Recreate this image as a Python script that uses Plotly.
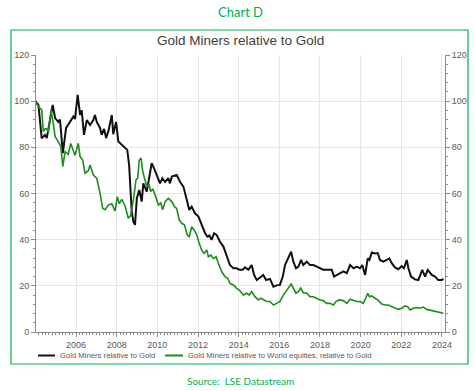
import plotly.graph_objects as go

# Gold Miners relative to Gold (black)
black_x = [2004.0, 2004.15, 2004.31, 2004.47, 2004.56, 2004.64, 2004.85, 2004.97, 2005.13, 2005.21,
           2005.35, 2005.51, 2005.70, 2005.87, 2005.95, 2006.08, 2006.20, 2006.28, 2006.39, 2006.53,
           2006.69, 2006.85, 2006.93, 2007.02, 2007.18, 2007.26, 2007.38, 2007.48, 2007.59, 2007.76,
           2007.83, 2007.97, 2008.08, 2008.25, 2008.41, 2008.52, 2008.61, 2008.66, 2008.74, 2008.82,
           2008.90, 2008.99, 2009.11, 2009.23, 2009.31, 2009.48, 2009.59, 2009.72, 2009.84, 2009.97,
           2010.13, 2010.25, 2010.38, 2010.54, 2010.62, 2010.71, 2010.95, 2011.12, 2011.28, 2011.45,
           2011.57, 2011.69, 2011.85, 2012.02, 2012.18, 2012.35, 2012.46, 2012.56, 2012.67, 2012.79,
           2012.92, 2013.08, 2013.25, 2013.41, 2013.57, 2013.74, 2013.90, 2014.03, 2014.20, 2014.31,
           2014.48, 2014.64, 2014.76, 2014.89, 2015.05, 2015.21, 2015.35, 2015.54, 2015.71, 2015.87,
           2016.03, 2016.17, 2016.28, 2016.44, 2016.58, 2016.69, 2016.82, 2016.94, 2017.07, 2017.18,
           2017.35, 2017.51, 2017.67, 2017.84, 2018.00, 2018.16, 2018.41, 2018.58, 2018.69, 2018.99,
           2019.15, 2019.32, 2019.48, 2019.65, 2019.81, 2019.97, 2020.08, 2020.22, 2020.35, 2020.43,
           2020.55, 2020.71, 2020.84, 2020.95, 2021.12, 2021.28, 2021.41, 2021.53, 2021.69, 2021.85,
           2022.02, 2022.13, 2022.27, 2022.35, 2022.48, 2022.67, 2022.84, 2023.03, 2023.17, 2023.30,
           2023.50, 2023.66, 2023.82, 2023.99, 2024.07]
black_y = [100, 98.4, 83.9, 85.4, 84, 88, 98.4, 92.7, 91, 92,
           77.5, 88.4, 91, 93.3, 92.3, 102.7, 94, 96, 85.4, 91.8,
           89.7, 91.8, 94, 91, 88.4, 85.4, 88, 84, 87, 94,
           85.7, 91, 82.5, 81, 80, 78.9, 72.4, 63.7, 52, 47.8,
           46.4, 58, 61.5, 56.5, 64.4, 60.8, 67.3, 73.1, 70.9, 68,
           64.4, 66.6, 65, 66.6, 64.4, 67.3, 68, 65, 63, 57.2,
           52.9, 54.3, 51.4, 50, 46.4, 42.8, 41.3, 41.8, 39.9, 42.8,
           42, 39.1, 37, 32.6, 29, 27.6, 27.6, 27, 27, 28,
           27, 29, 24.7, 22.5, 23.8, 24.7, 22.5, 23, 19.6, 20.2,
           20.4, 24, 29, 31.9, 34.8, 30.5, 27.6, 28.3, 31.2, 29,
           30.5, 29, 29, 28.3, 27.6, 27, 27, 27, 24, 25.4,
           26.3, 25.5, 29, 27.6, 28.3, 27.6, 29, 24.7, 31.9, 31.2,
           34.4, 34, 34.2, 31.2, 30.5, 31.2, 31.9, 29.8, 28, 27.2,
           28.5, 27.6, 31.2, 27.6, 24, 22.8, 22.5, 26.9, 24, 26.9,
           24.7, 24, 22.5, 22.5, 23]

# Gold Miners relative to World equities, relative to Gold (green)
green_x = [2004.0, 2004.15, 2004.31, 2004.39, 2004.47, 2004.56, 2004.64, 2004.77, 2004.88, 2004.97,
           2005.13, 2005.25, 2005.35, 2005.46, 2005.62, 2005.74, 2005.87, 2005.95, 2006.11, 2006.20,
           2006.33, 2006.44, 2006.61, 2006.69, 2006.85, 2007.02, 2007.18, 2007.31, 2007.43, 2007.59,
           2007.76, 2007.92, 2008.03, 2008.13, 2008.25, 2008.41, 2008.57, 2008.69, 2008.82, 2008.95,
           2009.03, 2009.11, 2009.20, 2009.28, 2009.39, 2009.48, 2009.59, 2009.67, 2009.77, 2009.89,
           2010.05, 2010.17, 2010.26, 2010.38, 2010.54, 2010.71, 2010.84, 2010.95, 2011.08, 2011.20,
           2011.33, 2011.47, 2011.57, 2011.69, 2011.82, 2011.94, 2012.06, 2012.18, 2012.30, 2012.43,
           2012.51, 2012.64, 2012.75, 2012.89, 2013.00, 2013.17, 2013.33, 2013.46, 2013.57, 2013.74,
           2013.90, 2014.03, 2014.23, 2014.40, 2014.52, 2014.64, 2014.80, 2014.97, 2015.09, 2015.21,
           2015.38, 2015.54, 2015.71, 2015.87, 2016.03, 2016.20, 2016.36, 2016.49, 2016.58, 2016.69,
           2016.82, 2016.94, 2017.05, 2017.18, 2017.35, 2017.51, 2017.67, 2017.84, 2018.00, 2018.16,
           2018.33, 2018.49, 2018.66, 2018.79, 2018.95, 2019.15, 2019.32, 2019.48, 2019.65, 2019.81,
           2019.97, 2020.13, 2020.25, 2020.35, 2020.43, 2020.55, 2020.71, 2020.84, 2021.04, 2021.20,
           2021.36, 2021.53, 2021.69, 2021.85, 2022.02, 2022.18, 2022.31, 2022.43, 2022.59, 2022.76,
           2022.92, 2023.08, 2023.25, 2023.41, 2023.58, 2023.82, 2024.07]
green_y = [100, 97.6, 96.2, 86.8, 88, 88, 86.5, 96.2, 90.4, 84.6,
           82.5, 80.3, 71.6, 78.1, 77, 81.7, 78.5, 76.5, 81.7, 76,
           74.5, 68.8, 70, 72.4, 68, 66.5, 60.1, 53.6, 53, 55,
           55.6, 52.4, 58.6, 55.6, 57.5, 54.6, 49.3, 50.5, 57.2, 65.9,
           66.6, 74.5, 75.3, 69.5, 65.9, 63, 64, 60.8, 62, 59.4,
           55, 56, 52.9, 56.5, 57.9, 56.5, 54.3, 53.5, 48.5, 47.1,
           46.4, 42, 41.3, 45.6, 44, 42, 38.4, 35.5, 34, 35.5,
           32.6, 33.3, 31.9, 32.6, 29.8, 26.1, 24, 23.3, 21.1, 20.4,
           18.9, 18.2, 16, 16.8, 16, 17.5, 15.3, 13.9, 14.6, 13.9,
           13.2, 13.2, 11.7, 12.4, 13.2, 16, 18.2, 19.9, 20.8, 19,
           16.8, 17.5, 19, 17, 16.8, 15.3, 15.3, 14.6, 13.9, 13.6,
           12.4, 12.4, 11.7, 13.2, 13.9, 13.6, 12.4, 14.2, 13.6, 13.2,
           13.2, 12.4, 14.6, 16.8, 15.3, 15.6, 14.6, 13.9, 12.1, 11.7,
           11.7, 11, 10.3, 9.8, 10.3, 11.3, 11, 9.5, 10.3, 10.6,
           10.3, 10.8, 9.8, 9.5, 9.1, 8.5, 8.1]

year_ticks = [2006, 2008, 2010, 2012, 2014, 2016, 2018, 2020, 2022, 2024]
value_ticks = [0, 20, 40, 60, 80, 100, 120]

series_names = ["Gold Miners relative to Gold",
                "Gold Miners relative to World equities, relative to Gold"]
series_colors = ["#111111", "#1e8c1e"]

GREEN_FRAME = "#00b050"
AXIS = "#8c8c8c"
TXT = "#595959"

fig = go.Figure()
fig.add_trace(go.Scatter(x=black_x, y=black_y, mode="lines", name=series_names[0],
                         line=dict(color=series_colors[0], width=2), showlegend=False))
fig.add_trace(go.Scatter(x=green_x, y=green_y, mode="lines", name=series_names[1],
                         line=dict(color=series_colors[1], width=1.6), showlegend=False))
# invisible trace to anchor right axis
fig.add_trace(go.Scatter(x=[black_x[0]], y=[black_y[0]], yaxis="y2", mode="lines",
                         showlegend=False, hoverinfo="skip", opacity=0))

L, R, T, B = 36, 30, 55, 59
W, H = 475, 391
pw, ph = W - L - R, H - T - B

def px_x(x):
    return (x - L) / pw

def px_y(y):
    return (H - B - y) / ph

tickfont = dict(family="Liberation Sans, Arial, sans-serif", size=9, color=TXT)

fig.update_layout(
    width=W, height=H,
    margin=dict(l=L, r=R, t=T, b=B, autoexpand=False),
    paper_bgcolor="white", plot_bgcolor="white",
    font=dict(family="Liberation Sans, Arial, sans-serif", color=TXT, size=9),
    showlegend=False,
    xaxis=dict(range=[2004.03, 2024.15], tickmode="array", tickvals=year_ticks,
               ticktext=[str(v) for v in year_ticks], automargin=False,
               showgrid=True, gridcolor="#e6e6e6", gridwidth=1, zeroline=False,
               showline=True, linecolor=AXIS, linewidth=1, ticks="outside", ticklen=4,
               tickcolor=AXIS, tickfont=tickfont,
               minor=dict(ticks="outside", ticklen=2, tickcolor=AXIS, tickmode="linear",
                          dtick=1/6, tick0=2004, showgrid=False)),
    yaxis=dict(range=[0, 120], tickmode="array", tickvals=value_ticks, automargin=False,
               showgrid=True, gridcolor="#e6e6e6",
               zeroline=False, showline=True, linecolor=AXIS, linewidth=1, ticks="outside",
               ticklen=4, tickcolor=AXIS, tickfont=tickfont,
               minor=dict(ticks="outside", ticklen=2, tickcolor=AXIS, tickmode="linear",
                          dtick=4, tick0=0, showgrid=False)),
    yaxis2=dict(range=[0, 120], tickmode="array", tickvals=value_ticks, overlaying="y", side="right",
                automargin=False, showgrid=False, zeroline=False, showline=True, linecolor=AXIS,
                linewidth=1, ticks="outside", ticklen=4, tickcolor=AXIS, tickfont=tickfont,
                minor=dict(ticks="outside", ticklen=2, tickcolor=AXIS, tickmode="linear",
                           dtick=4, tick0=0, showgrid=False)),
)

shapes = [dict(type="rect", xref="paper", yref="paper",
               x0=px_x(11), x1=px_x(468), y0=px_y(364), y1=px_y(30),
               line=dict(color=GREEN_FRAME, width=1.2), fillcolor="rgba(0,0,0,0)", layer="below")]
annotations = [
    dict(text="Chart D", xref="paper", yref="paper", x=px_x(240), y=px_y(12),
         showarrow=False, font=dict(family="Lato, Open Sans, sans-serif", size=13, color=GREEN_FRAME),
         xanchor="center", yanchor="middle"),
    dict(text="Gold Miners relative to Gold", xref="paper", yref="paper", x=px_x(240), y=px_y(41),
         showarrow=False, font=dict(family="Liberation Sans, Arial, sans-serif", size=13.5, color="#404040"),
         xanchor="center", yanchor="middle"),
    dict(text="Source:  LSE Datastream", xref="paper", yref="paper", x=px_x(240), y=px_y(381),
         showarrow=False, font=dict(family="Lato, Open Sans, sans-serif", size=10, color=GREEN_FRAME),
         xanchor="center", yanchor="middle"),
]

# manual legend
legend_line_x = [(38, 55), (165, 183)]
legend_text_x = [58, 186]
leg_y = 355.5
for (x0, x1), tx, name, col in zip(legend_line_x, legend_text_x, series_names, series_colors):
    shapes.append(dict(type="line", xref="paper", yref="paper", x0=px_x(x0), x1=px_x(x1),
                       y0=px_y(leg_y), y1=px_y(leg_y), line=dict(color=col, width=2)))
    annotations.append(dict(text=name, xref="paper", yref="paper", x=px_x(tx), y=px_y(leg_y),
                            showarrow=False, xanchor="left", yanchor="middle",
                            font=dict(family="Liberation Sans, Arial, sans-serif", size=7.7, color=TXT)))

fig.update_layout(shapes=shapes, annotations=annotations)

fig.write_html("out.html", config={"displayModeBar": False},
               post_script="document.body.style.margin='0px';document.body.style.overflow='hidden';")
